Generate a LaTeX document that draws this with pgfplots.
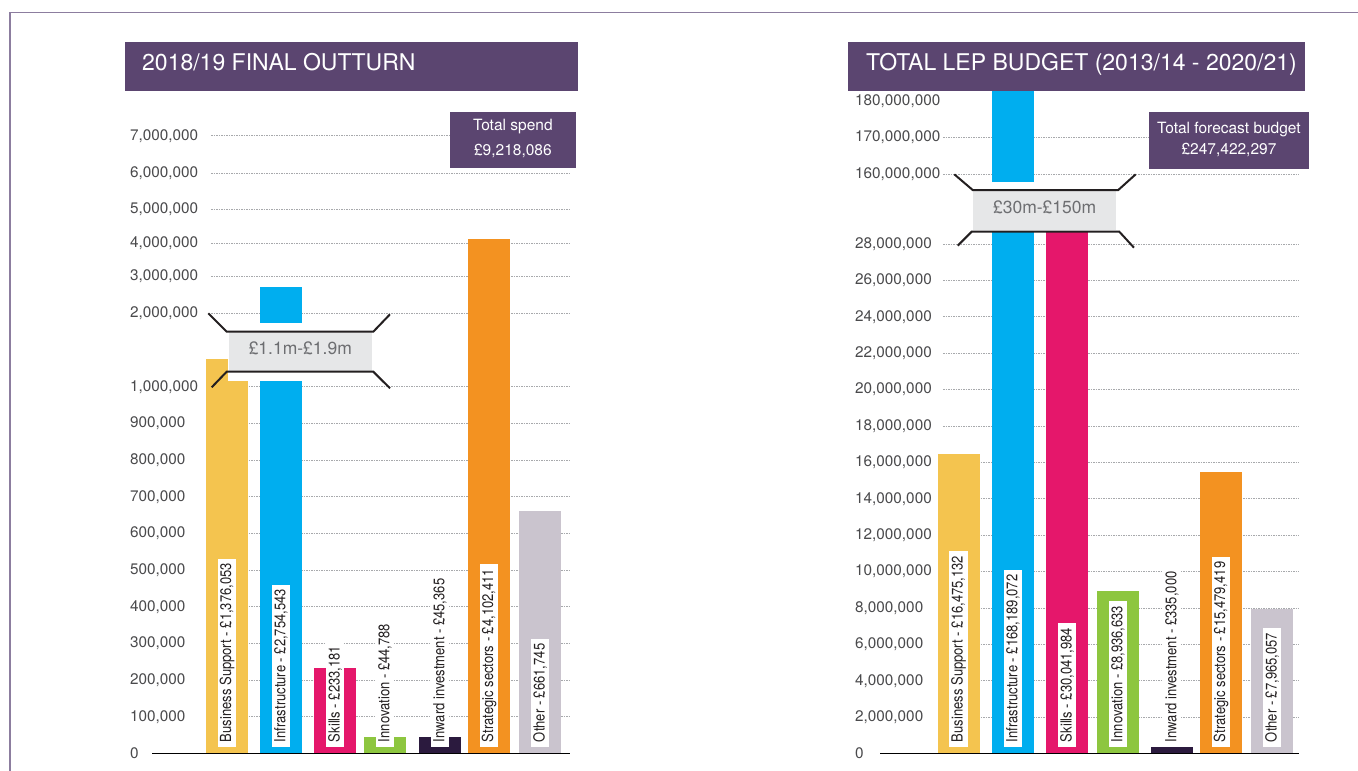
\documentclass[border=0pt]{standalone}
\usepackage{pgfplots}
\pgfplotsset{compat=1.18}
\usepackage{pgfplotstable}
\usepackage{fontspec}
\setmainfont{TeX Gyre Heros}
\newfontfamily\condfont[FakeStretch=0.85]{TeX Gyre Heros}

\definecolor{titlepurple}{HTML}{5B4570}
\definecolor{borderpurple}{HTML}{8C7D9F}
\definecolor{cyellow}{HTML}{F4C44F}
\definecolor{cblue}{HTML}{00AEEF}
\definecolor{cmag}{HTML}{E5176B}
\definecolor{cgreen}{HTML}{8DC63F}
\definecolor{cdark}{HTML}{2B1A3E}
\definecolor{corange}{HTML}{F39221}
\definecolor{cgrey}{HTML}{CAC4CE}
\definecolor{ticktext}{HTML}{4A4A4C}
\definecolor{gridgrey}{HTML}{A7A9AC}
\definecolor{breakgrey}{HTML}{E6E7E8}
\definecolor{breaktext}{HTML}{6D6E71}
\definecolor{baseline}{HTML}{939598}
\definecolor{lbltext}{HTML}{231F20}

\newcommand{\tickfont}{\fontsize{15.3bp}{18bp}\selectfont}
\newcommand{\lblfont}{\condfont\fontsize{15.3bp}{17bp}\selectfont}
\newcommand{\titlefont}{\fontsize{23bp}{26bp}\selectfont}
\newcommand{\boxfont}{\fontsize{15.5bp}{18bp}\selectfont}
\newcommand{\breakfont}{\fontsize{17.5bp}{20bp}\selectfont}

% 2018/19 final outturn (x = bar centre position, val = amount in GBP)
\pgfplotstableread{
x val
227 1376053
281 2754543
335 233181
385 44788
440 45365
489 4102411
540 661745
}\tabL

% Total LEP budget (infrastructure bar is drawn past the 180,000,000 line in the reference)
\pgfplotstableread{
x val
958.5 16475132
1013 183000000
1067 30041984
1118 8936633
1172 335000
1221 15479419
1272 7965057
}\tabR

% broken-axis mappings: amount -> height above the baseline
\newcommand{\fL}{((\thisrow{val}<=1000000) ? (\thisrow{val}*0.0003667) : ((\thisrow{val}<=2000000) ? (366.7+(\thisrow{val}-1000000)*0.0000735) : (440.2+(\thisrow{val}-2000000)*0.0000355)))}
\newcommand{\fR}{((\thisrow{val}<=30000000) ? (\thisrow{val}*0.000018196) : ((\thisrow{val}<=160000000) ? (545.9+(\thisrow{val}-30000000)*0.00000025615) : (579.2+(\thisrow{val}-160000000)*0.0000037)))}

\newcommand{\barL}[2]{\addplot[ybar, bar width=42bp, bar shift=0pt, draw=none, fill=#2, restrict expr to domain={\coordindex}{#1:#1}] table[x=x, y expr=\fL] {\tabL};}
\newcommand{\barR}[2]{\addplot[ybar, bar width=42bp, bar shift=0pt, draw=none, fill=#2, restrict expr to domain={\coordindex}{#1:#1}] table[x=x, y expr=\fR] {\tabR};}

\pgfplotsset{
  panel/.style={
    scale only axis, height=700bp, ymin=0, ymax=700,
    clip=false,
    axis line style={draw=none},
    xtick=\empty,
    major tick length=0pt,
    ymajorgrids,
    grid style={gridgrey, line width=0.7bp, dash pattern=on 1.5bp off 1bp},
    yticklabel style={anchor=west, inner sep=0pt, font=\tickfont, text=ticktext},
  },
}
\tikzset{
  lbl/.style={rotate=90, anchor=west, fill=white, inner xsep=4.5bp, inner ysep=0pt,
    minimum height=18.6bp, font=\lblfont, text=lbltext},
}

\begin{document}
\begin{tikzpicture}
\path[use as bounding box] (0,0) rectangle (1358bp,-771bp);

% ---------------- left panel ----------------
\begin{axis}[panel,
  at={(211bp,-753.5bp)}, anchor=south west,
  width=358bp, xmin=211, xmax=569,
  ytick={0,36.67,73.34,110.01,146.68,183.35,220.02,256.69,293.36,330.03,366.7,440.2,477.5,510.2,544.5,580.2,617.8},
  yticklabels={0,{100,000},{200,000},{300,000},{400,000},{500,000},{600,000},{700,000},{800,000},{900,000},{1,000,000},{2,000,000},{3,000,000},{4,000,000},{5,000,000},{6,000,000},{7,000,000}},
  yticklabel style={xshift=-81bp},
]
\barL{0}{cyellow}
\barL{1}{cblue}
\barL{2}{cmag}
\barL{3}{cgreen}
\barL{4}{cdark}
\barL{5}{corange}
\barL{6}{cgrey}
\node[lbl] at (axis cs:227,6.8) {Business Support - £1,376,053};
\node[lbl] at (axis cs:281,6.8) {Infrastructure - £2,754,543};
\node[lbl] at (axis cs:335,6.8) {Skills - £233,181};
\node[lbl] at (axis cs:385,6.8) {Innovation - £44,788};
\node[lbl] at (axis cs:440,6.8) {Inward investment - £45,365};
\node[lbl] at (axis cs:489,6.8) {Strategic sectors - £4,102,411};
\node[lbl] at (axis cs:540,6.8) {Other - £661,745};
\end{axis}

% ---------------- right panel ----------------
\begin{axis}[panel,
  at={(943bp,-753.5bp)}, anchor=south west,
  width=356bp, xmin=943, xmax=1299,
  ytick={0,36.39,72.79,109.18,145.57,181.96,218.36,254.75,291.14,327.54,363.93,400.32,436.71,473.11,509.5,579.2,616.2},
  yticklabels={0,{2,000,000},{4,000,000},{6,000,000},{8,000,000},{10,000,000},{12,000,000},{14,000,000},{16,000,000},{18,000,000},{20,000,000},{22,000,000},{24,000,000},{26,000,000},{28,000,000},{160,000,000},{170,000,000}},
  extra y ticks={652}, extra y tick labels={180{,}000{,}000},
  extra y tick style={grid=none},
  yticklabel style={xshift=-88bp},
]
\barR{0}{cyellow}
\barR{1}{cblue}
\barR{2}{cmag}
\barR{3}{cgreen}
\barR{4}{cdark}
\barR{5}{corange}
\barR{6}{cgrey}
\node[lbl] at (axis cs:958.5,6.8) {Business Support - £16,475,132};
\node[lbl] at (axis cs:1013,6.8) {Infrastructure - £168,189,072};
\node[lbl] at (axis cs:1067,6.8) {Skills - £30,041,984};
\node[lbl] at (axis cs:1118,6.8) {Innovation - £8,936,633};
\node[lbl] at (axis cs:1172,6.8) {Inward investment - £335,000};
\node[lbl] at (axis cs:1221,6.8) {Strategic sectors - £15,479,419};
\node[lbl] at (axis cs:1272,6.8) {Other - £7,965,057};
\end{axis}

\begin{scope}[x=1bp, y=-1bp]
% page border
\draw[borderpurple, line width=1.3bp] (10,771) -- (10,12.3) -- (1358,12.3);
% baselines
\draw[baseline, line width=1.6bp] (152,753.5) -- (570,753.5);
\draw[baseline, line width=1.6bp] (880,753.5) -- (1299,753.5);

% left axis break
\fill[white] (228,322.7) rectangle (374,380.7);
\fill[breakgrey] (229,331.7) rectangle (371.7,371.7);
\node[anchor=base, font=\breakfont, text=breaktext, inner sep=0pt] at (300.3,354) {£1.1m-£1.9m};
\draw[lbltext, line width=2bp, line join=miter] (208.3,313.3) -- (226.7,331.7) -- (373.3,331.7) -- (390,314.3);
\draw[lbltext, line width=2bp, line join=miter] (211.7,387.3) -- (226.7,371.7) -- (373.3,371.7) -- (390,388.3);

% right axis break
\fill[white] (973,181.7) rectangle (1117,232.3);
\fill[breakgrey] (973.3,191) rectangle (1116,230);
\node[anchor=base, font=\breakfont, text=breaktext, inner sep=0pt] at (1044.7,213.3) {£30m-£150m};
\draw[lbltext, line width=2bp, line join=miter] (954.3,174.3) -- (972.7,190) -- (1118.3,190) -- (1135.7,174.3);
\draw[lbltext, line width=2bp, line join=miter] (957.7,245.7) -- (971.7,231.7) -- (1119.3,231.7) -- (1134,247.7);

% titles
\fill[titlepurple] (125,42) rectangle (578,90.7);
\node[anchor=base west, text=white, font=\titlefont, inner sep=0pt] at (142,70.7) {2018/19 FINAL OUTTURN};
\fill[titlepurple] (847.7,42.3) rectangle (1305,90.7);
\node[anchor=base west, text=white, font=\titlefont, inner sep=0pt] at (866,70) {TOTAL LEP BUDGET (2013/14 - 2020/21)};

% total boxes
\fill[titlepurple] (450,112) rectangle (575.7,167.7);
\node[anchor=base, text=white, font=\boxfont, inner sep=0pt] at (512.9,130.5) {Total spend};
\node[anchor=base, text=white, font=\boxfont, inner sep=0pt] at (512.9,155.5) {£9,218,086};
\fill[titlepurple] (1149,112) rectangle (1309,169);
\node[anchor=base, text=white, font=\boxfont, inner sep=0pt] at (1229,133.2) {Total forecast budget};
\node[anchor=base, text=white, font=\boxfont, inner sep=0pt] at (1229,154.8) {£247,422,297};
\end{scope}
\end{tikzpicture}
\end{document}
